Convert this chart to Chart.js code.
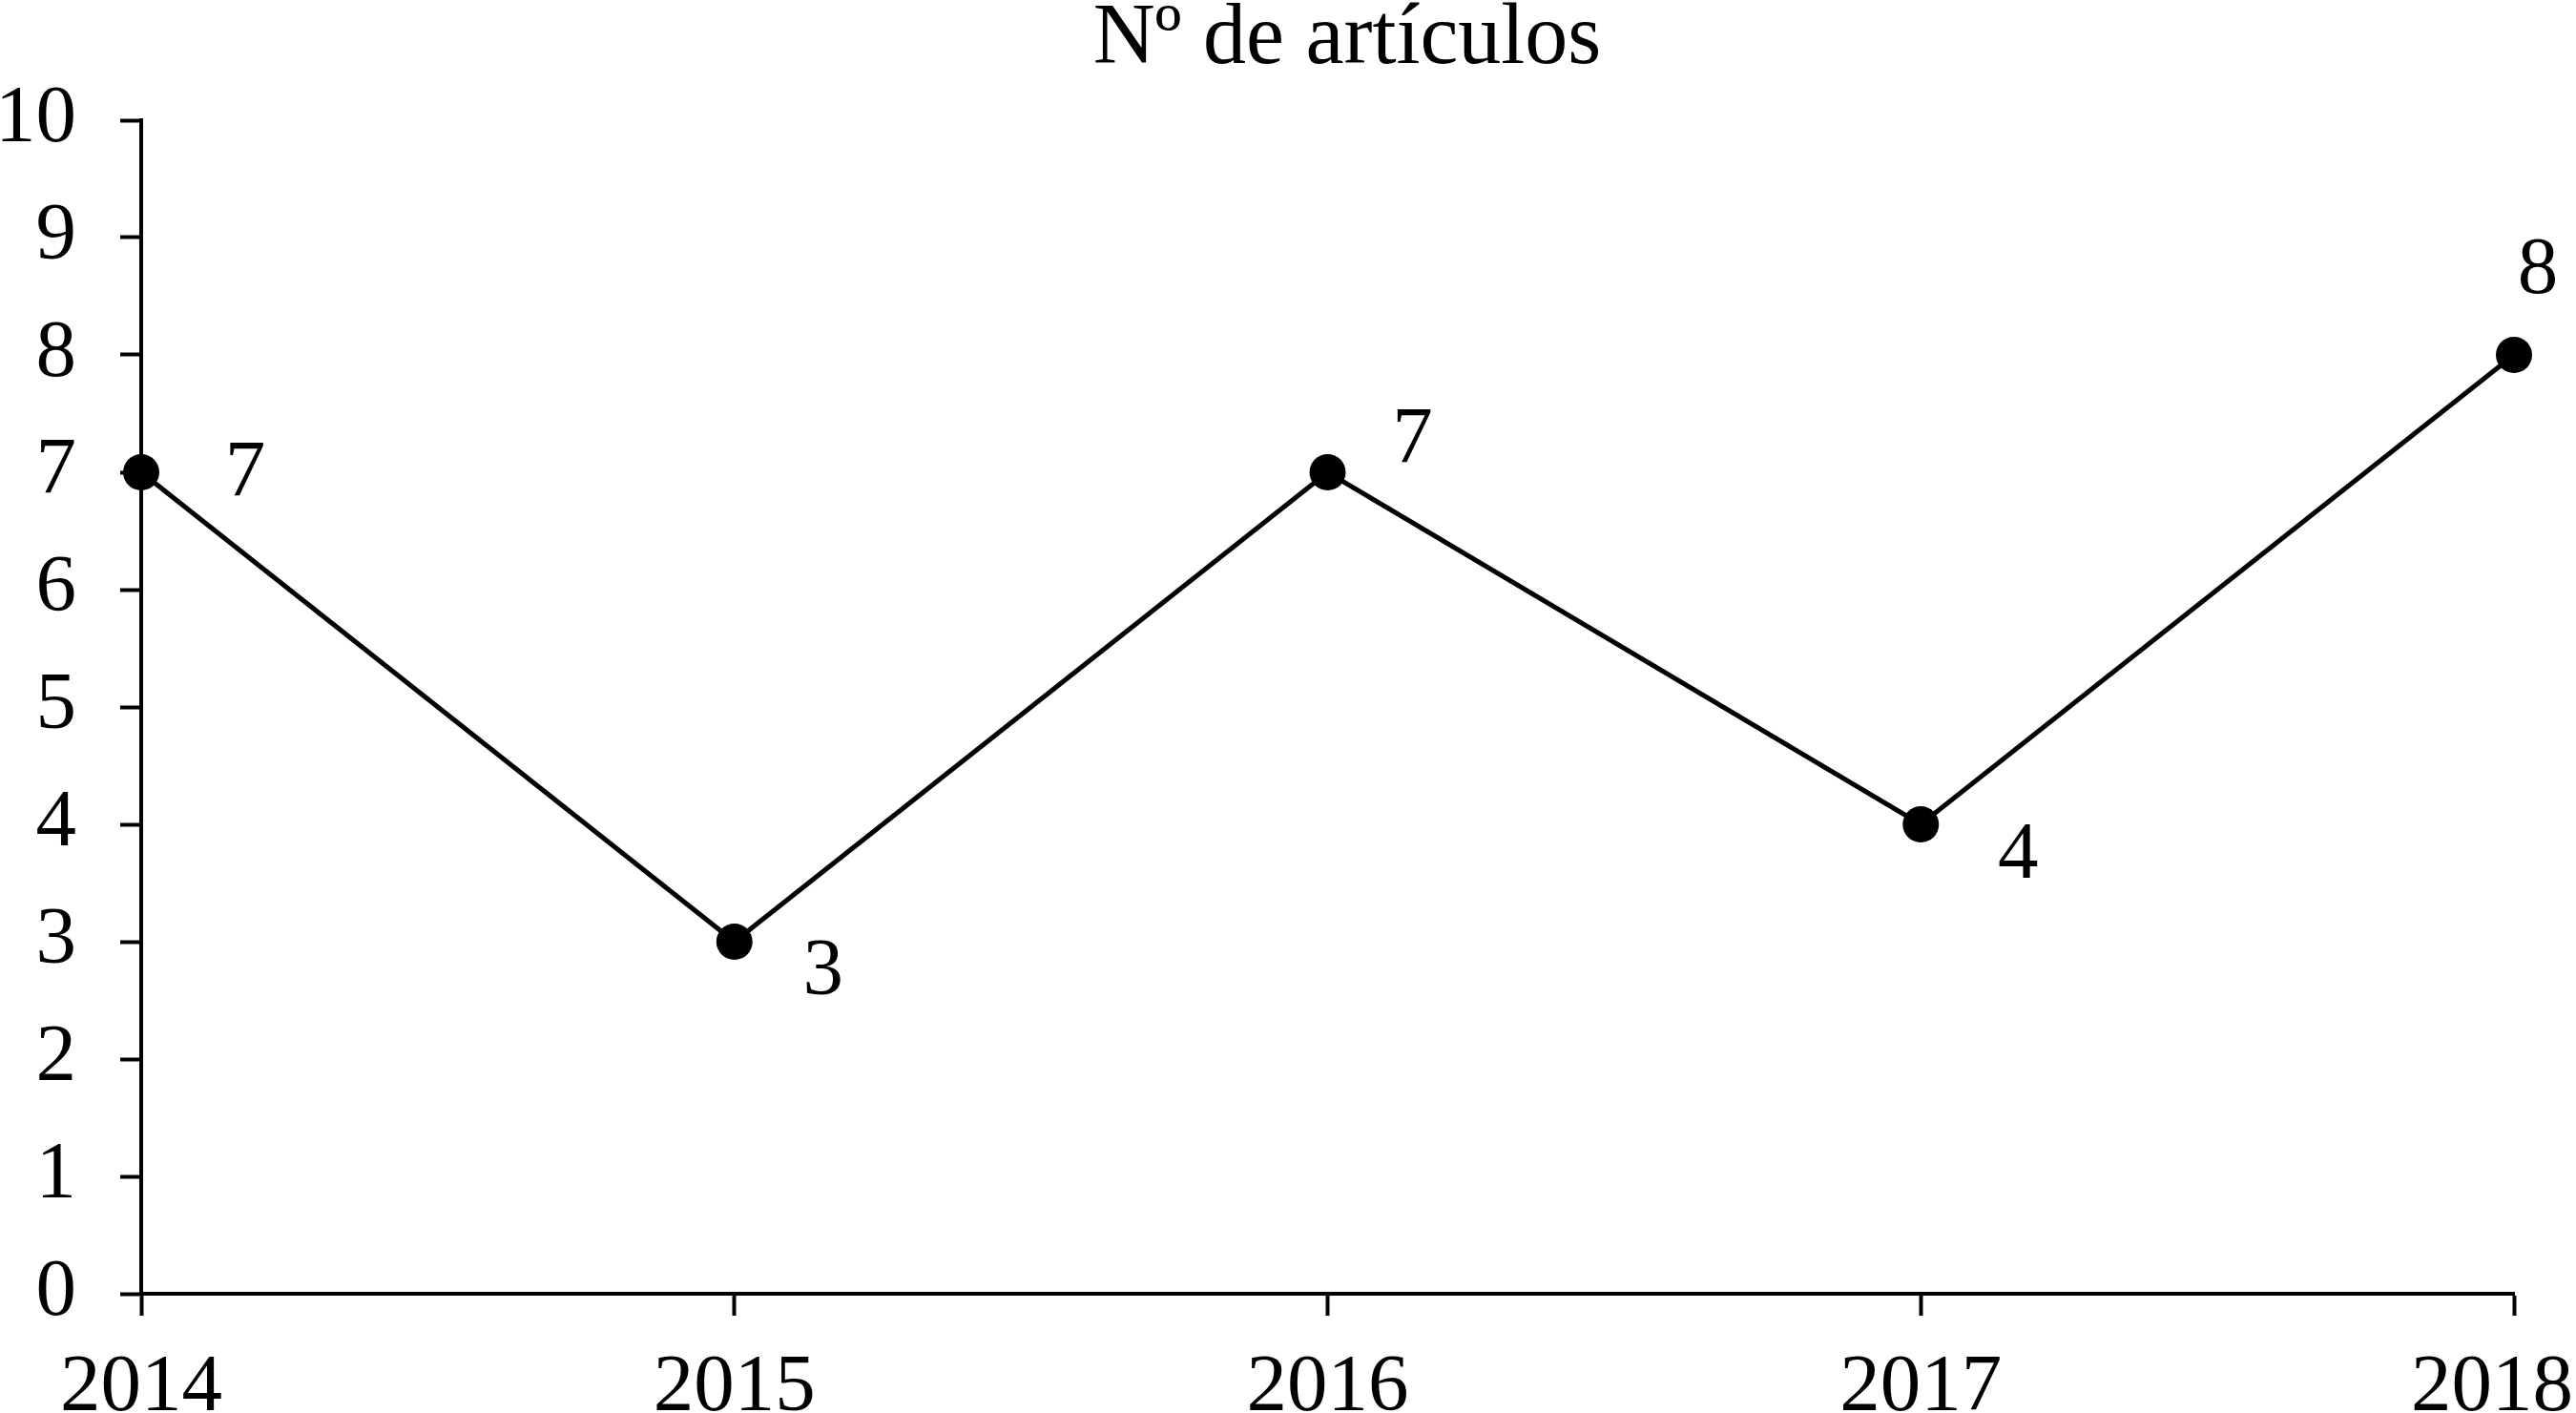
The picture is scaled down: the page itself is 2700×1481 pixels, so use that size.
<!DOCTYPE html>
<html>
<head>
<meta charset="utf-8">
<script src="https://cdn.jsdelivr.net/npm/chart.js@4"></script>
<style>
  html, body { margin: 0; padding: 0; background: #fff; }
  #wrap { width: 2700px; height: 1481px; }
</style>
</head>
<body>
<div id="wrap"><canvas id="chart" width="2700" height="1481"></canvas></div>
<script>
// Data
const years = ['2014', '2015', '2016', '2017', '2018'];
const articulos = [7, 3, 7, 4, 8];
const chartTitle = 'Nº de artículos';

// Label placement relative to each point (px)
const labelOffsets = [[109, 3], [93, 33], [89, -32], [102, 34], [25, -87]];

const FONT = '"Liberation Serif", "DejaVu Serif", serif';
const FONT_SIZE = 85;

// Draws title, x tick labels (kept inside the canvas) and point values
const labelsPlugin = {
    id: 'pointLabels',
    afterDatasetsDraw(chart) {
        const ctx = chart.ctx;
        const meta = chart.getDatasetMeta(0);
        const xScale = chart.scales.x;
        ctx.save();
        ctx.fillStyle = '#000';
        ctx.font = FONT_SIZE + 'px ' + FONT;
        ctx.textAlign = 'center';
        ctx.textBaseline = 'middle';
        meta.data.forEach((pt, i) => {
            const off = labelOffsets[i];
            ctx.fillText(String(articulos[i]), pt.x + off[0], pt.y + off[1]);
        });

        // x axis labels
        ctx.textBaseline = 'alphabetic';
        years.forEach((yr, i) => {
            const half = ctx.measureText(yr).width / 2;
            let x = xScale.getPixelForTick(i);
            x = Math.min(x, chart.width - half - 3);
            ctx.fillText(yr, x, 1478);
        });

        ctx.font = '90px ' + FONT;
        ctx.fillText(chartTitle, 1412, 66);
        ctx.restore();
    }
};

new Chart(document.getElementById('chart'), {
    type: 'line',
    data: {
        labels: years,
        datasets: [{
            data: articulos,
            borderColor: '#000',
            borderWidth: 5,
            pointRadius: 19,
            pointBackgroundColor: '#000',
            pointBorderWidth: 0,
            tension: 0
        }]
    },
    options: {
        responsive: false,
        animation: false,
        devicePixelRatio: 1,
        layout: { padding: { top: 126, right: 0, left: 0, bottom: 0 } },
        plugins: {
            legend: { display: false },
            tooltip: { enabled: false }
        },
        scales: {
            x: {
                offset: false,
                grid: {
                    drawOnChartArea: false,
                    tickLength: 23,
                    tickWidth: 4,
                    color: '#000'
                },
                border: { color: '#000', width: 4 },
                ticks: { display: false, autoSkip: false },
                afterFit(scale) {
                    scale.height = 125;
                    scale.paddingRight = 65;
                }
            },
            y: {
                min: 0,
                max: 10,
                grid: {
                    drawOnChartArea: false,
                    tickLength: 22,
                    tickWidth: 4,
                    color: '#000'
                },
                border: { color: '#000', width: 4 },
                ticks: {
                    stepSize: 1,
                    color: '#000',
                    font: { family: FONT, size: FONT_SIZE },
                    padding: 46
                },
                afterFit(scale) { scale.width = 148; }
            }
        }
    },
    plugins: [labelsPlugin]
});
</script>
</body>
</html>
